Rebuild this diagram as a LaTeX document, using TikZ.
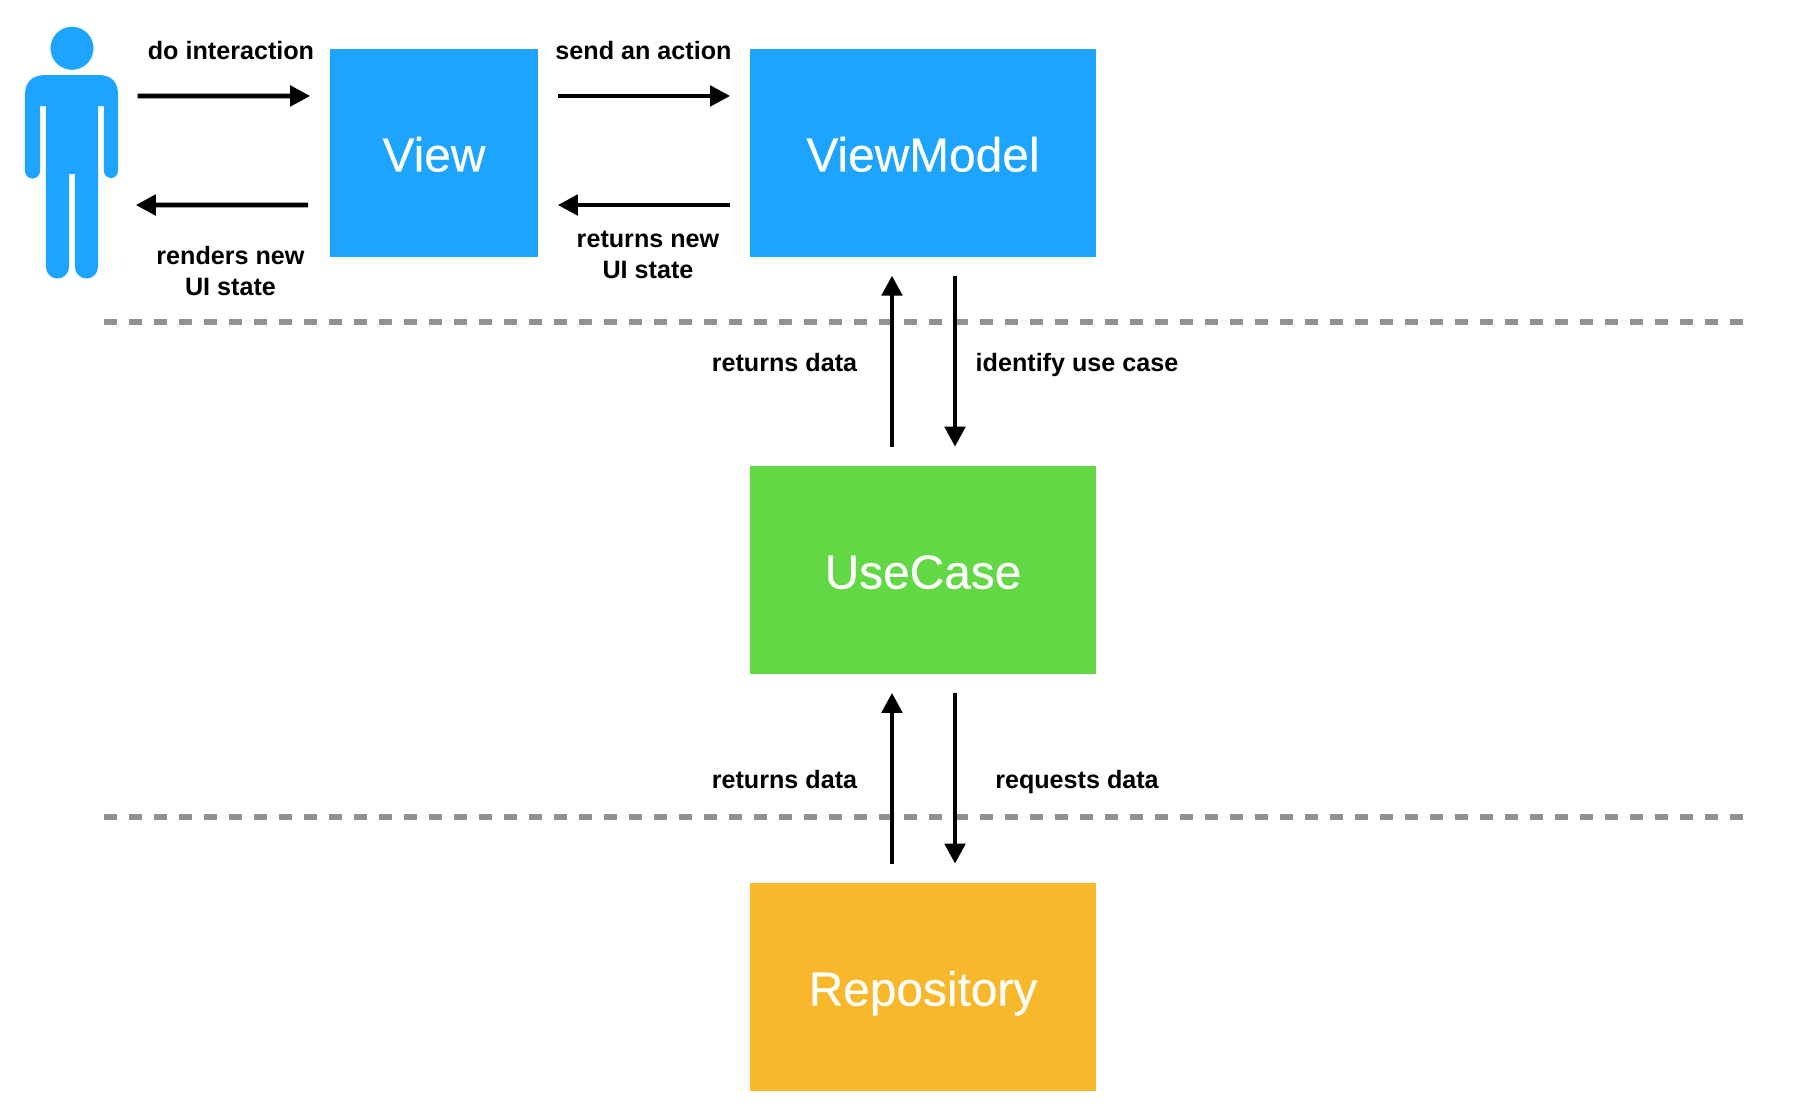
\documentclass[tikz,border=0pt]{standalone}
\usepackage{fontspec}
\setmainfont{Liberation Sans}
\usetikzlibrary{arrows.meta}
\definecolor{boxblue}{RGB}{29,164,255}
\definecolor{boxgreen}{RGB}{99,216,69}
\definecolor{boxorange}{RGB}{248,184,44}
\definecolor{sepgray}{RGB}{145,145,145}

\begin{document}
\begin{tikzpicture}[x=0.01cm, y=-0.01cm]
  \tikzset{
    layerbox/.style={text=white, inner sep=0pt, minimum height=2.08cm, text height=10.6pt, text depth=0pt, font=\fontsize{13.6}{15}\selectfont\addfontfeature{FakeBold=0.3}},
    flow/.style={-{Triangle[length=0.2cm, width=0.2cm]}, line width=0.048cm},
    flowlabel/.style={align=center, inner sep=0pt, font=\fontsize{7.15}{8.8}\selectfont\bfseries},
    separator/.style={draw=sepgray, line width=0.06cm, dash pattern=on 0.13cm off 0.12cm}
  }
  \useasboundingbox (0,0) rectangle (1814,1118);

  % layer separators
  \coordinate (sepAL) at (104,322);
  \coordinate (sepAR) at (1743,322);
  \coordinate (sepBL) at (104,817);
  \coordinate (sepBR) at (1743,817);
  \draw[separator] (sepAL) -- (sepAR);
  \draw[separator] (sepBL) -- (sepBR);

  % person
  \fill[boxblue] (72,48.3) circle (0.215cm);
  \fill[boxblue] (25,95) .. controls (25,82) and (32,75) .. (46,75) -- (98,75)
    .. controls (112,75) and (118,82) .. (118,95) -- (118,171)
    arc[start angle=0, end angle=180, x radius=0.07cm, y radius=-0.07cm] -- (104,106) -- (98,106) -- (98,267)
    arc[start angle=0, end angle=180, x radius=0.115cm, y radius=-0.115cm] -- (75,174) -- (69,174) -- (69,267)
    arc[start angle=0, end angle=180, x radius=0.115cm, y radius=-0.115cm] -- (46,106) -- (40,106) -- (40,171)
    arc[start angle=0, end angle=180, x radius=0.075cm, y radius=-0.075cm] -- cycle;
  \node[inner sep=0pt, minimum width=0.93cm, minimum height=2.55cm] (user) at (71.5,151) {};

  \node[layerbox, fill=boxblue, minimum width=2.08cm]   (view)       at (434,152.8) {View};
  \node[layerbox, fill=boxblue, minimum width=3.46cm]   (viewmodel)  at (923,152.8) {ViewModel};
  \node[layerbox, fill=boxgreen, minimum width=3.46cm]  (usecase)    at (923,570)   {UseCase};
  \node[layerbox, fill=boxorange, minimum width=3.46cm] (repository) at (923,987)   {Repository};

  \draw[flow] ([xshift=0.19cm, yshift=0.55cm]user.east) -- ([xshift=-0.19cm, yshift=0.568cm]view.west);
  \draw[flow] ([xshift=-0.21cm, yshift=-0.522cm]view.west) -- ([xshift=0.17cm, yshift=-0.54cm]user.east);
  \draw[flow] ([xshift=0.19cm, yshift=0.568cm]view.east) -- ([xshift=-0.19cm, yshift=0.568cm]viewmodel.west);
  \draw[flow] ([xshift=-0.19cm, yshift=-0.522cm]viewmodel.west) -- ([xshift=0.19cm, yshift=-0.522cm]view.east);

  \draw[flow] ([xshift=-0.31cm, yshift=0.185cm]usecase.north) -- ([xshift=-0.31cm, yshift=-0.18cm]viewmodel.south);
  \draw[flow] ([xshift=0.32cm, yshift=-0.18cm]viewmodel.south) -- ([xshift=0.32cm, yshift=0.185cm]usecase.north);
  \draw[flow] ([xshift=-0.31cm, yshift=0.185cm]repository.north) -- ([xshift=-0.31cm, yshift=-0.18cm]usecase.south);
  \draw[flow] ([xshift=0.32cm, yshift=-0.18cm]usecase.south) -- ([xshift=0.32cm, yshift=0.185cm]repository.north);

  \node[flowlabel] (lblInteract) at (231,51)    {do interaction};
  \node[flowlabel] (lblAction)   at (643.5,51)  {send an action};
  \node[flowlabel] (lblRenders)  at (230.5,271) {renders new\\UI state};
  \node[flowlabel] (lblNewState) at (648,255)   {returns new\\UI state};
  \node[flowlabel] (lblReturnsA) at (784.5,363) {returns data};
  \node[flowlabel] (lblIdentify) at (1077,365)  {identify use case};
  \node[flowlabel] (lblReturnsB) at (784.5,780) {returns data};
  \node[flowlabel] (lblRequests) at (1077,782)  {requests data};
\end{tikzpicture}
\end{document}
